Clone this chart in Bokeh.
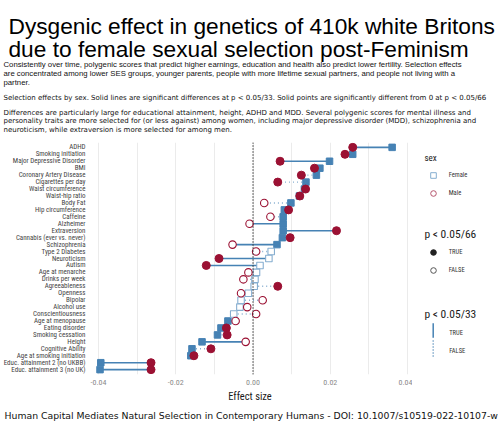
import numpy as np
from bokeh.plotting import figure
from bokeh.layouts import column, row
from bokeh.models import (ColumnDataSource, FactorRange, Range1d, FixedTicker, Span,
                          Label, Legend, LegendItem, Arrow, NumeralTickFormatter)
from bokeh.embed import file_html
from bokeh.resources import INLINE

# ---------------- data ----------------
categories = ["ADHD", "Smoking initiation", "Major Depressive Disorder", "BMI",
              "Coronary Artery Disease", "Cigarettes per day", "Waist circumference",
              "Waist-hip ratio", "Body Fat", "Hip circumference", "Caffeine", "Alzheimer",
              "Extraversion", "Cannabis (ever vs. never)", "Schizophrenia", "Type 2 Diabetes",
              "Neuroticism", "Autism", "Age at menarche", "Drinks per week", "Agreeableness",
              "Openness", "Bipolar", "Alcohol use", "Conscientiousness", "Age at menopause",
              "Eating disorder", "Smoking cessation", "Height", "Cognitive Ability",
              "Age at smoking initiation", "Educ. attainment 2 (no UKBB)",
              "Educ. attainment 3 (no UK)"]
female = [0.0360, 0.0258, 0.0198, 0.0173, 0.0164, 0.0137, 0.0133, 0.0120, 0.0098, 0.0081,
          0.0078, 0.0078, 0.0078, 0.0076, 0.0062, 0.0047, 0.0041, 0.0018, 0.0009, 0.0005,
          0.0003, -0.0012, -0.0031, -0.0034, -0.0050, -0.0065, -0.0083, -0.0092, -0.0132,
          -0.0158, -0.0161, -0.0394, -0.0396]
male = [0.0258, 0.0238, 0.0070, 0.0159, 0.0125, 0.0064, 0.0136, 0.0121, 0.0029, 0.0092,
        0.0045, -0.0009, 0.0216, 0.0096, -0.0053, 0.0008, -0.0088, -0.0121, -0.0012, -0.0025,
        0.0064, -0.0031, 0.0025, -0.0015, 0.0008, -0.0045, -0.0069, -0.0067, -0.0019,
        -0.0109, -0.0153, -0.0264, -0.0264]
female_sig = [True] * 15 + [False] * 10 + [True] * 8
male_sig = [True, True, True, True, True, True, True, True, False, True, False, False, True,
            True, False, False, True, True, False, False, True, False, False, False, False,
            False, True, True, False, True, True, True, True]
diff_sig = [True, False, True, False, False, False, False, False, False, False, False, True,
            True, False, True, False, True, True, False, False, False, False, False, False,
            False, False, False, False, True, False, False, True, True]

x_ticks = [-0.04, -0.02, 0.0, 0.02, 0.04]
x_minor = [-0.03, -0.01, 0.01, 0.03]

title_lines = ["Dysgenic effect in genetics of 410k white Britons",
               "due to female sexual selection post-Feminism"]
para1 = ["Consistently over time, polygenic scores that predict higher earnings, education and health also predict lower fertility. Selection effects",
         "are concentrated among lower SES groups, younger parents, people with more lifetime sexual partners, and people not living with a",
         "partner."]
para2 = ["Selection effects by sex. Solid lines are significant differences at p < 0.05/33. Solid points are significantly different from 0 at p < 0.05/66"]
para3 = ["Differences are particularly large for educational attainment, height, ADHD and MDD. Several polygenic scores for mental illness and",
         "personality traits are more selected for (or less against) among women, including major depressive disorder (MDD), schizophrenia and",
         "neuroticism, while extraversion is more selected for among men."]
caption = "Human Capital Mediates Natural Selection in Contemporary Humans - DOI: 10.1007/s10519-022-10107-w"

# ---------------- style ----------------
FEM = "#4682b4"
FEM_LIGHT = "#86aed0"
MAL = "#9b1133"
COND = "Roboto Condensed"
HEAD_H = 138
MAIN_W, MAIN_H = 412, 269
LEG_W = 88
CAP_H = 422 - HEAD_H - MAIN_H
LEFT, TOP, BOTTOM = 81, 4, 33
FRAME_BOTTOM_ABS = 374


def blank_fig(w, h, top=0, bottom=0):
    f = figure(width=w, height=h, x_range=Range1d(0, 1), y_range=Range1d(0, 1),
               output_backend="svg", toolbar_location=None,
               min_border_left=0, min_border_right=0,
               min_border_top=top, min_border_bottom=bottom,
               x_axis_location=None, y_axis_location=None)
    f.outline_line_color = None
    f.xgrid.visible = False
    f.ygrid.visible = False
    f.background_fill_color = "white"
    f.border_fill_color = "white"
    return f


def add_text(fig, text, x, y, font, size, color="#000000"):
    fig.add_layout(Label(x=x, y=y, x_units="screen", y_units="screen",
                         text=text, text_font=font, text_font_size=size,
                         text_color=color, text_baseline="alphabetic", text_align="left"))


# ---------------- header ----------------
head = blank_fig(500, HEAD_H)
hy = lambda base: HEAD_H - base
add_text(head, title_lines[0], 8, hy(25), "Liberation Sans", "22.7px")
add_text(head, title_lines[1], 8, hy(48), "Liberation Sans", "22.7px")
for line, base in zip(para1, [63.8, 72.8, 81.8]):
    add_text(head, line, 3, hy(base), "Liberation Sans", "7.75px", "#111111")
for line, base in zip(para2, [97.3]):
    add_text(head, line, 3, hy(base), "DejaVu Sans", "7.0px", "#111111")
for line, base in zip(para3, [112.6, 120.9, 129.2]):
    add_text(head, line, 3, hy(base), "DejaVu Sans", "7.0px", "#111111")

# ---------------- main plot ----------------
p = figure(width=MAIN_W, height=MAIN_H,
           y_range=FactorRange(factors=categories[::-1], range_padding=0.2,
                               range_padding_units="absolute"),
           x_range=Range1d(-0.04284, 0.04127),
           output_backend="svg", toolbar_location=None,
           min_border_left=LEFT, min_border_right=0,
           min_border_top=TOP, min_border_bottom=0)
p.outline_line_color = None
p.background_fill_color = "white"
p.border_fill_color = "white"

ticker = FixedTicker(ticks=x_ticks, minor_ticks=x_minor)
p.xaxis.ticker = ticker
p.xaxis.formatter = NumeralTickFormatter(format="0.00")
p.xgrid.ticker = ticker
p.xgrid.grid_line_color = "#ebebeb"
p.xgrid.minor_grid_line_color = "#ebebeb"
p.ygrid.grid_line_color = None

for ax in (p.xaxis, p.yaxis):
    ax.axis_line_color = None
    ax.major_tick_line_color = None
    ax.minor_tick_line_color = None
    ax.major_tick_out = 0
    ax.major_tick_in = 0
    ax.minor_tick_out = 0
    ax.minor_tick_in = 0

p.xaxis.major_label_text_font = COND
p.xaxis.major_label_text_font_size = "8px"
p.xaxis.major_label_text_color = "#8a8a8a"
p.xaxis.major_label_standoff = 5
p.xaxis.axis_label = "Effect size"
p.xaxis.axis_label_text_font = COND
p.xaxis.axis_label_text_font_size = "10.5px"
p.xaxis.axis_label_text_font_style = "normal"
p.xaxis.axis_label_text_color = "#1a1a1a"
p.xaxis.axis_label_standoff = 2

p.yaxis.major_label_text_font = COND
p.yaxis.major_label_text_font_size = "7px"
p.yaxis.major_label_text_color = "#444444"
p.yaxis.major_label_standoff = 2

p.add_layout(Span(location=0, dimension="height", line_color="#333333",
                  line_dash="1 2", line_width=1.5))


def subset(flags, want=True):
    return [i for i, f in enumerate(flags) if f == want]


solid_idx = subset(diff_sig, True)
dot_idx = subset(diff_sig, False)
seg_solid = ColumnDataSource(dict(y=[categories[i] for i in solid_idx],
                                  x0=[female[i] for i in solid_idx],
                                  x1=[male[i] for i in solid_idx]))
seg_dot = ColumnDataSource(dict(y=[categories[i] for i in dot_idx],
                                x0=[female[i] for i in dot_idx],
                                x1=[male[i] for i in dot_idx]))
p.segment(x0="x0", y0="y", x1="x1", y1="y", source=seg_dot, line_color=FEM_LIGHT,
          line_width=1.4, line_dash="1 3")
p.segment(x0="x0", y0="y", x1="x1", y1="y", source=seg_solid, line_color=FEM,
          line_width=1.6)

fi = subset(female_sig, True)
fo = subset(female_sig, False)
p.scatter(x=[female[i] for i in fi], y=[categories[i] for i in fi], marker="square",
          size=6.5, fill_color=FEM, line_color=FEM)
p.scatter(x=[female[i] for i in fo], y=[categories[i] for i in fo], marker="square",
          size=6.5, fill_color="white", line_color=FEM_LIGHT, line_width=1.1)
mi = subset(male_sig, True)
mo = subset(male_sig, False)
p.scatter(x=[male[i] for i in mi], y=[categories[i] for i in mi], marker="circle",
          size=8, fill_color=MAL, line_color=MAL)
p.scatter(x=[male[i] for i in mo], y=[categories[i] for i in mo], marker="circle",
          size=7.5, fill_color="white", line_color=MAL, line_width=1.1)

# ---------------- legend panel ----------------
leg = blank_fig(LEG_W, MAIN_H, top=TOP, bottom=BOTTOM)
lx = lambda cx: cx - MAIN_W
ly = lambda cy: FRAME_BOTTOM_ABS - cy
nan_x = [float("nan")]
nan_y = [0.5]
r_fem = leg.scatter(x=nan_x, y=nan_y, marker="square", fill_color=None,
                    line_color=FEM_LIGHT, line_width=1)
r_mal = leg.scatter(x=nan_x, y=nan_y, marker="circle", fill_color=None,
                    line_color="#b5546c", line_width=1)
r_true = leg.scatter(x=nan_x, y=nan_y, marker="circle", fill_color="#222222",
                     line_color="#222222")
r_false = leg.scatter(x=nan_x, y=nan_y, marker="circle", fill_color=None,
                      line_color="#555555", line_width=1)
leg_common = dict(orientation="vertical", glyph_width=14, glyph_height=18, label_height=18,
                  spacing=0, padding=0, margin=0, border_line_color=None,
                  background_fill_alpha=0, label_text_font=COND,
                  label_text_font_size="6.5px", label_text_color="#333333",
                  label_standoff=9)
leg.add_layout(Legend(items=[LegendItem(label="Female", renderers=[r_fem]),
                             LegendItem(label="Male", renderers=[r_mal])],
                      location=(lx(425.7), ly(201.5)), **leg_common))
leg.add_layout(Legend(items=[LegendItem(label="TRUE", renderers=[r_true]),
                             LegendItem(label="FALSE", renderers=[r_false])],
                      location=(lx(425.7), ly(279)), **leg_common))
leg.add_layout(Arrow(start=None, end=None, x_start=lx(432.7), y_start=ly(322.7),
                     x_end=lx(432.7), y_end=ly(337.3), start_units="screen",
                     end_units="screen", line_color=FEM, line_width=1.5))
leg.add_layout(Arrow(start=None, end=None, x_start=lx(432.7), y_start=ly(340),
                     x_end=lx(432.7), y_end=ly(358), start_units="screen",
                     end_units="screen", line_color=FEM, line_width=1.5, line_dash="1 2"))
add_text(leg, "TRUE", lx(448.7), ly(332.2), COND, "6.5px", "#333333")
add_text(leg, "FALSE", lx(448.7), ly(350.5), COND, "6.5px", "#333333")
add_text(leg, "sex", lx(424), ly(157.5), COND, "9px", "#1a1a1a")
add_text(leg, "p < 0.05/66", lx(424), ly(233.5), COND, "11.5px", "#1a1a1a")
add_text(leg, "p < 0.05/33", lx(424), ly(313), COND, "11.5px", "#1a1a1a")

# ---------------- caption ----------------
cap = blank_fig(500, CAP_H)
add_text(cap, caption, 4, 422 - 414.5, "DejaVu Sans", "9.3px", "#111111")

layout = column(head, row(p, leg), cap)
open("out.html", "w").write(file_html(layout, INLINE))
